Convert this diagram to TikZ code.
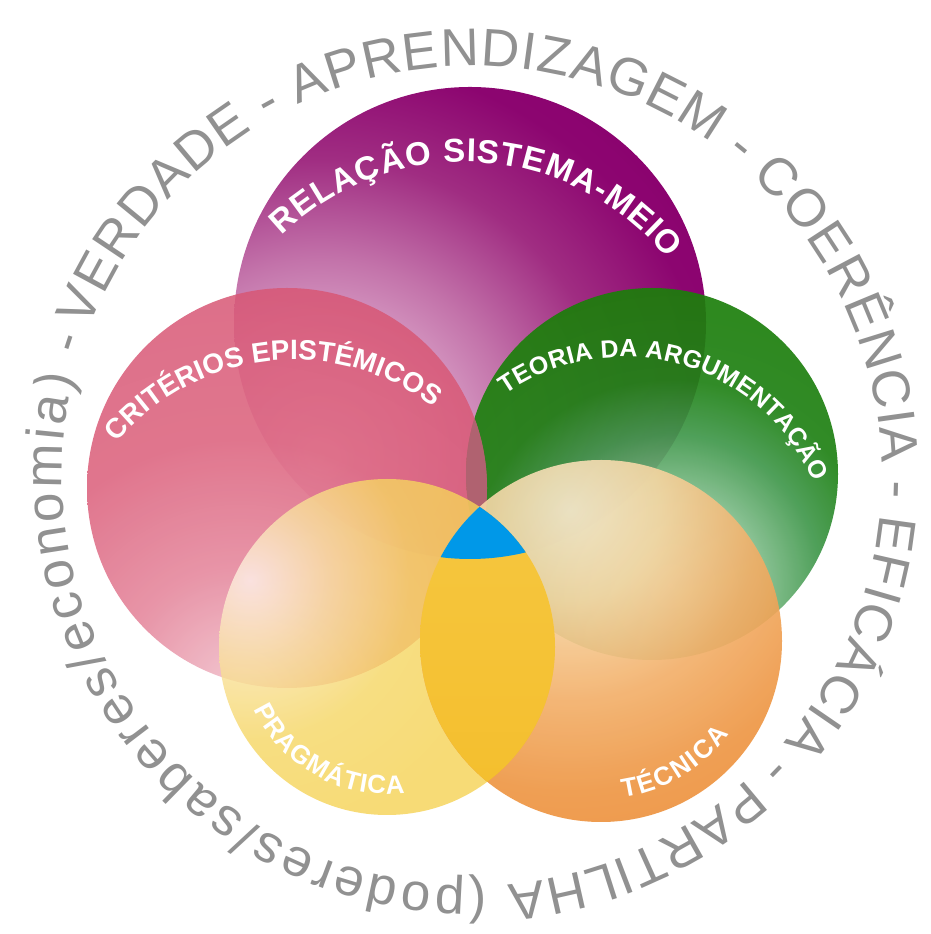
\documentclass[tikz,border=0pt]{standalone}
\usepackage{fontspec}
\setmainfont{Liberation Sans}
\usetikzlibrary{decorations.text}

% purple (opaque)
\definecolor{P0}{RGB}{245,225,238}
\definecolor{P1}{RGB}{222,170,205}
\definecolor{P2}{RGB}{195,115,170}
\definecolor{P3}{RGB}{160,45,130}
\definecolor{P4}{RGB}{140,5,112}
\definecolor{P5}{RGB}{138,0,110}
% red (opacity 0.85)
\definecolor{R0}{RGB}{241,190,202}
\definecolor{R1}{RGB}{228,131,153}
\definecolor{R2}{RGB}{219,94,122}
\definecolor{R3}{RGB}{216,87,117}
\definecolor{R4}{RGB}{211,77,113}
% green (opacity 0.92)
\definecolor{G0}{RGB}{179,217,184}
\definecolor{G1}{RGB}{130,190,141}
\definecolor{G2}{RGB}{65,152,76}
\definecolor{G3}{RGB}{32,130,21}
\definecolor{G4}{RGB}{28,126,10}
% yellow (opacity 0.8)
\definecolor{Y0}{RGB}{255,243,236}
\definecolor{Y1}{RGB}{249,226,161}
\definecolor{Y2}{RGB}{246,214,99}
\definecolor{Y3}{RGB}{246,211,84}
% orange (opacity 0.9)
\definecolor{O0}{RGB}{249,232,203}
\definecolor{O1}{RGB}{246,214,163}
\definecolor{O2}{RGB}{242,174,103}
\definecolor{O3}{RGB}{238,149,66}
\definecolor{O4}{RGB}{236,138,49}
% others
\definecolor{lensmauve}{RGB}{176,98,112}
\definecolor{lensTop}{RGB}{246,200,66}
\definecolor{lensBot}{RGB}{244,190,44}
\definecolor{coreblue}{RGB}{0,152,232}
\definecolor{ringgray}{RGB}{145,145,145}

% radial shadings, stops given in picture pixels (1bp ~ 1px)
\pgfdeclareradialshading{purpleshade}{\pgfpointorigin}{color(0bp)=(P0); color(110bp)=(P1); color(200bp)=(P2); color(300bp)=(P3); color(400bp)=(P4); color(500bp)=(P5)}
\pgfdeclareradialshading{redshade}{\pgfpointorigin}{color(0bp)=(R0); color(120bp)=(R1); color(250bp)=(R2); color(400bp)=(R3); color(500bp)=(R4)}
\pgfdeclareradialshading{greenshade}{\pgfpointorigin}{color(0bp)=(G0); color(90bp)=(G1); color(150bp)=(G2); color(205bp)=(G3); color(300bp)=(G4); color(500bp)=(G4)}
\pgfdeclareradialshading{yellowshade}{\pgfpointorigin}{color(0bp)=(Y0); color(80bp)=(Y1); color(160bp)=(Y2); color(260bp)=(Y3); color(500bp)=(Y3)}
\pgfdeclareradialshading{orangeshade}{\pgfpointorigin}{color(0bp)=(O0); color(90bp)=(O1); color(190bp)=(O2); color(280bp)=(O3); color(400bp)=(O4); color(500bp)=(O4)}

\newcommand{\ringfont}{\fontsize{53}{53}\selectfont}
\newcommand{\lblP}{\fontsize{33}{33}\selectfont\bfseries}
\newcommand{\lblR}{\fontsize{28}{28}\selectfont\bfseries}
\newcommand{\lblG}{\fontsize{25}{25}\selectfont\bfseries}
\newcommand{\lblY}{\fontsize{26}{26}\selectfont\bfseries}

\tikzset{
  lbltext/.style={decorate, decoration={text along path, text={#1}, text align=fit to path, text color=white}},
  ringtext/.style={decorate, decoration={text along path, text={#1}, text align=fit to path, text color=ringgray}},
  bubble/.style={inner sep=0pt, outer sep=0pt, anchor=center}
}

\begin{document}
\begin{tikzpicture}[x=1pt,y=1pt]
\useasboundingbox (0,0) rectangle (931,934);
\fill[white] (0,0) rectangle (931,934);

% circle centres and highlight points
\coordinate (Pc) at (470,611);
\coordinate (Rc) at (287,446);
\coordinate (Gc) at (652,460);
\coordinate (Yc) at (387,287);
\coordinate (Oc) at (601,293);
\coordinate (Ph) at (320,474);
\coordinate (Rh) at (240,244);
\coordinate (Gh) at (670,349);
\coordinate (Yh) at (250,354);
\coordinate (Oh) at (570,424);
\coordinate (ring) at (472,458);
\coordinate (Pl) at (464,510);
\coordinate (Rl) at (294,343);
\coordinate (Gl) at (624,371);

% purple
\begin{scope}
  \clip (Pc) circle (236);
  \node[bubble] (purplefill) at (Ph) {\pgfuseshading{purpleshade}};
\end{scope}
% green
\begin{scope}
  \clip (Gc) circle (186);
  \node[bubble, fill opacity=0.92] (greenfill) at (Gh) {\pgfuseshading{greenshade}};
\end{scope}
% red
\begin{scope}
  \clip (Rc) circle (200);
  \node[bubble, fill opacity=0.85] (redfill) at (Rh) {\pgfuseshading{redshade}};
\end{scope}
% red-green lens
\begin{scope}
  \clip (Rc) circle (200);
  \fill[lensmauve] (Gc) circle (186);
\end{scope}
% yellow
\begin{scope}
  \clip (Yc) circle (168);
  \node[bubble, fill opacity=0.8] (yellowfill) at (Yh) {\pgfuseshading{yellowshade}};
\end{scope}
% orange
\begin{scope}
  \clip (Oc) circle (181);
  \node[bubble, fill opacity=0.9] (orangefill) at (Oh) {\pgfuseshading{orangeshade}};
\end{scope}
% yellow-orange lens
\begin{scope}
  \clip (Yc) circle (168);
  \shade[top color=lensTop, bottom color=lensBot] (Oc) circle (181);
\end{scope}
% blue core
\begin{scope}
  \clip (Pc) circle (236);
  \clip (Yc) circle (168);
  \fill[coreblue] (Oc) circle (181);
\end{scope}

% circle labels
\path[lbltext={|\lblP|RELAÇÃO SISTEMA-MEIO}]
  ([shift={(134:262)}]Pl) arc[start angle=134, end angle=39, radius=262];
\path[lbltext={|\lblR|CRITÉRIOS EPISTÉMICOS}]
  ([shift={(140:231)}]Rl) arc[start angle=140, end angle=53, radius=231];
\path[lbltext={|\lblG|TEORIA DA ARGUMENTAÇÃO}]
  ([shift={(125:206)}]Gl) arc[start angle=125, end angle=23, radius=206];
\path[lbltext={|\lblY|PRAGMÁTICA}]
  ([shift={(205:147)}]Yc) arc[start angle=205, end angle=277, radius=147];
\path[lbltext={|\lblY|TÉCNICA}]
  ([shift={(278:158)}]Oc) arc[start angle=278, end angle=324, radius=158];

% outer ring text
\path[ringtext={|\ringfont|VERDADE - APRENDIZAGEM - COERÊNCIA - EFICÁCIA - PARTILHA}]
  ([shift={(159:410)}]ring) arc[start angle=159, end angle=-85, radius=410];
\path[ringtext={|\ringfont|(poderes/saberes/economia) -}]
  ([shift={(-88:410)}]ring) arc[start angle=-88, end angle=-199.5, radius=410];
\end{tikzpicture}
\end{document}
